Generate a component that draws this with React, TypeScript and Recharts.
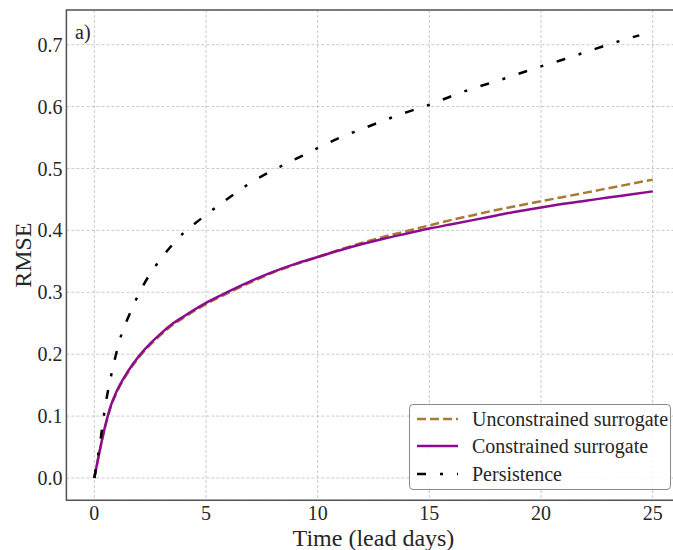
import React from "react";
import { LineChart, Line, XAxis, YAxis, CartesianGrid, Legend, ReferenceArea } from "recharts";

// lead time (days) for the two surrogate models
const MODEL_DAYS = [0, 0.5, 0.75, 1, 1.5, 2, 2.5, 3, 3.5, 4, 5, 6, 7, 8, 9, 10, 11, 12, 13, 14, 15, 16, 17, 18, 19, 20, 21, 22, 23, 24, 25];
const UNCONSTRAINED = [0, 0.085, 0.116, 0.138, 0.17, 0.195, 0.215, 0.232, 0.247, 0.259, 0.281, 0.299, 0.316, 0.332, 0.345, 0.357, 0.369, 0.38, 0.39, 0.399, 0.408, 0.417, 0.425, 0.433, 0.44, 0.447, 0.454, 0.461, 0.468, 0.475, 0.482];
const CONSTRAINED = [0, 0.086, 0.118, 0.14, 0.172, 0.197, 0.217, 0.234, 0.249, 0.261, 0.283, 0.301, 0.318, 0.333, 0.346, 0.357, 0.368, 0.378, 0.387, 0.395, 0.403, 0.41, 0.417, 0.424, 0.431, 0.437, 0.443, 0.448, 0.453, 0.458, 0.463];

const PERSIST_DAYS = [0, 0.25, 0.5, 0.75, 1, 1.25, 1.5, 2, 2.5, 3, 3.5, 4, 4.5, 5, 6, 7, 8, 9, 10, 11, 12, 13, 14, 15, 16, 17, 18, 19, 20, 21, 22, 23, 24, 24.4];
const PERSISTENCE = [0, 0.055, 0.118, 0.165, 0.204, 0.236, 0.258, 0.298, 0.33, 0.355, 0.377, 0.396, 0.411, 0.425, 0.452, 0.477, 0.497, 0.515, 0.533, 0.55, 0.564, 0.578, 0.591, 0.603, 0.617, 0.63, 0.641, 0.653, 0.665, 0.676, 0.688, 0.7, 0.711, 0.715];

const X_TICKS = [0, 5, 10, 15, 20, 25];
const Y_TICKS = [0, 0.1, 0.2, 0.3, 0.4, 0.5, 0.6, 0.7];

const X_DOMAIN: [number, number] = [-1.25, 26.25];
const Y_DOMAIN: [number, number] = [-0.036, 0.756];

const FONT = "'Liberation Serif', 'DejaVu Serif', serif";
const TEXT = "#262626";

const SERIES = [
  { name: "Unconstrained surrogate", color: "#a67c32", dash: "9 4" },
  { name: "Constrained surrogate", color: "#8e0a8e", dash: undefined },
  { name: "Persistence", color: "#000000", dash: "9 14 3 14" },
];

const toRows = (days: number[], vals: number[]) => days.map((t, i) => ({ t, v: vals[i] }));

const unconstrainedData = toRows(MODEL_DAYS, UNCONSTRAINED);
const constrainedData = toRows(MODEL_DAYS, CONSTRAINED);
const persistenceData = toRows(PERSIST_DAYS, PERSISTENCE);

function LegendBox() {
  return (
    <div
      style={{
        width: 262,
        height: 86,
        boxSizing: "border-box",
        border: "1px solid #8a8a8a",
        borderRadius: 4,
        background: "rgba(255,255,255,0.85)",
        paddingLeft: 7,
        fontFamily: FONT,
        color: TEXT,
      }}
    >
      {SERIES.map((s) => (
        <div key={s.name} style={{ display: "flex", alignItems: "center", height: 27.5 }}>
          <svg width={41} height={6} style={{ display: "block" }}>
            <line x1={0} y1={3} x2={41} y2={3} stroke={s.color} strokeWidth={2.5} strokeDasharray={s.dash} />
          </svg>
          <span style={{ marginLeft: 14, fontSize: 20, lineHeight: "22px", whiteSpace: "nowrap" }}>{s.name}</span>
        </div>
      ))}
    </div>
  );
}

export default function App() {
  return (
    <div style={{ position: "absolute", left: 0, top: 0, width: 673, height: 550, overflow: "hidden", background: "#fff" }}>
      <div style={{ position: "absolute", left: 75, top: 22, fontFamily: FONT, fontSize: 20, lineHeight: "20px", color: TEXT, zIndex: 2 }}>
        a)
      </div>
      <LineChart width={690} height={550} margin={{ top: 10, right: 9.4, bottom: 0, left: 0 }}>
        <CartesianGrid stroke="#bdbdbd" strokeDasharray="3 2" strokeWidth={0.8} />
        <XAxis
          type="number"
          dataKey="t"
          domain={X_DOMAIN}
          ticks={X_TICKS}
          allowDataOverflow
          height={49.7}
          axisLine={false}
          tickLine={false}
          tickSize={3}
          tickMargin={2}
          tick={{ fontFamily: FONT, fontSize: 20, fill: TEXT }}
          label={{ value: "Time (lead days)", position: "insideBottom", offset: 4, style: { fontFamily: FONT, fontSize: 24, fill: TEXT } }}
        />
        <YAxis
          type="number"
          domain={Y_DOMAIN}
          ticks={Y_TICKS}
          allowDataOverflow
          width={66.4}
          axisLine={false}
          tickLine={false}
          tickSize={2}
          tickMargin={2}
          tickFormatter={(v: number) => v.toFixed(1)}
          tick={{ fontFamily: FONT, fontSize: 20, fill: TEXT }}
          label={{ value: "RMSE", angle: -90, position: "insideLeft", offset: 22, style: { textAnchor: "middle", fontFamily: FONT, fontSize: 24, fill: TEXT } }}
        />
        <Line data={unconstrainedData} dataKey="v" name={SERIES[0].name} type="monotone" stroke={SERIES[0].color} strokeWidth={2.5} strokeDasharray={SERIES[0].dash} dot={false} isAnimationActive={false} />
        <Line data={constrainedData} dataKey="v" name={SERIES[1].name} type="monotone" stroke={SERIES[1].color} strokeWidth={2.5} dot={false} isAnimationActive={false} />
        <Line data={persistenceData} dataKey="v" name={SERIES[2].name} type="monotone" stroke={SERIES[2].color} strokeWidth={2.5} strokeDasharray={SERIES[2].dash} dot={false} isAnimationActive={false} />
        <ReferenceArea x1={X_DOMAIN[0]} x2={X_DOMAIN[1]} y1={Y_DOMAIN[0]} y2={Y_DOMAIN[1]} fill="none" stroke="#555" strokeWidth={1.5} ifOverflow="visible" />
        <Legend
          content={() => <LegendBox />}
          layout="horizontal"
          verticalAlign="middle"
          align="center"
          wrapperStyle={{ left: 409, top: 404, width: 262, height: 86 }}
        />
      </LineChart>
    </div>
  );
}
